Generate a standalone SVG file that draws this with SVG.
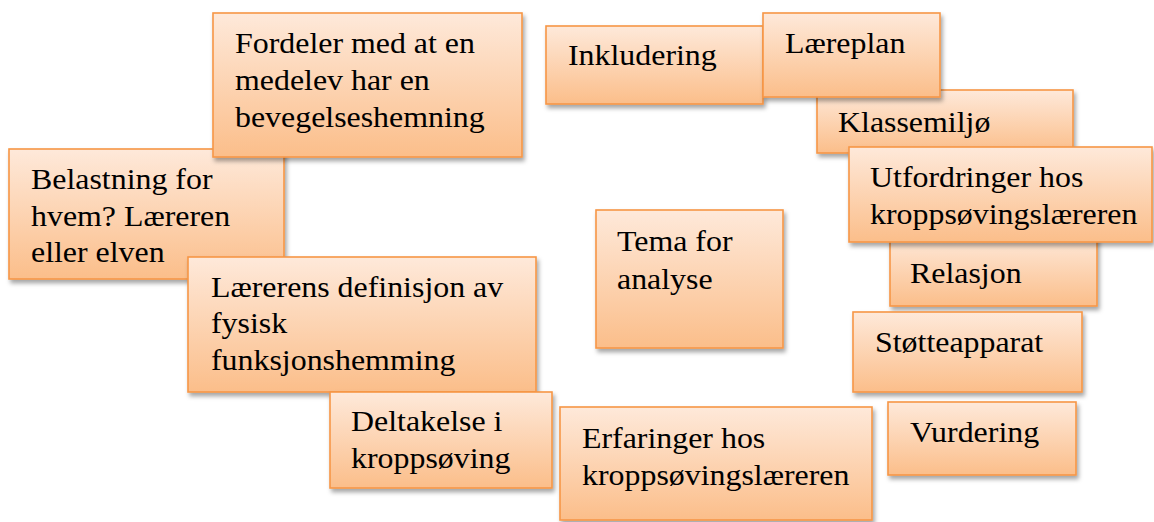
<svg xmlns="http://www.w3.org/2000/svg" width="1154" height="522" viewBox="0 0 1154 522">
<style>
.box{fill:url(#grad);stroke:#F79646;stroke-width:1.6;filter:url(#shadow)}
.t{font-family:'Liberation Serif','Times New Roman',serif;font-size:29px;fill:#000}
</style>
<defs>
<linearGradient id="grad" x1="0" y1="0" x2="0" y2="1">
<stop offset="0" stop-color="#FEE9DA"/>
<stop offset="1" stop-color="#FBBE8A"/>
</linearGradient>
<filter id="shadow" x="-10%" y="-10%" width="125%" height="130%">
<feDropShadow dx="2" dy="3.5" stdDeviation="2.2" flood-color="#000" flood-opacity="0.35"/>
</filter>
</defs>
<rect width="1154" height="522" fill="#fff"/>
<g id="connectors"/>
<g id="belastning">
<rect class="box" x="9" y="149" width="275" height="130"/>
<text class="t" transform="translate(31 189) scale(1.1 1)"><tspan x="0" y="0">Belastning for</tspan><tspan x="0" y="37">hvem? Læreren</tspan><tspan x="0" y="73">eller elven</tspan></text>
</g>
<g id="fordeler">
<rect class="box" x="213" y="13" width="309" height="144"/>
<text class="t" transform="translate(235 53) scale(1.1 1)"><tspan x="0" y="0">Fordeler med at en</tspan><tspan x="0" y="37">medelev har en</tspan><tspan x="0" y="74">bevegelseshemning</tspan></text>
</g>
<g id="inkludering">
<rect class="box" x="546" y="26" width="217" height="78"/>
<text class="t" transform="translate(568 65) scale(1.1 1)">Inkludering</text>
</g>
<g id="klassemiljo">
<rect class="box" x="817" y="90" width="256" height="63"/>
<text class="t" transform="translate(838 132) scale(1.1 1)">Klassemiljø</text>
</g>
<g id="laereplan">
<rect class="box" x="763" y="13" width="177" height="84"/>
<text class="t" transform="translate(785 53) scale(1.1 1)">Læreplan</text>
</g>
<g id="relasjon">
<rect class="box" x="890" y="236" width="207" height="70"/>
<text class="t" transform="translate(910 283) scale(1.1 1)">Relasjon</text>
</g>
<g id="utfordringer">
<rect class="box" x="849" y="147" width="303" height="95"/>
<text class="t" transform="translate(870 187) scale(1.1 1)"><tspan x="0" y="0">Utfordringer hos</tspan><tspan x="0" y="37">kroppsøvingslæreren</tspan></text>
</g>
<g id="laererens">
<rect class="box" x="188" y="257" width="348" height="135"/>
<text class="t" transform="translate(211 297) scale(1.1 1)"><tspan x="0" y="0">Lærerens definisjon av</tspan><tspan x="0" y="36">fysisk</tspan><tspan x="0" y="73">funksjonshemming</tspan></text>
</g>
<g id="deltakelse">
<rect class="box" x="330" y="392" width="222" height="96"/>
<text class="t" transform="translate(351 431) scale(1.1 1)"><tspan x="0" y="0">Deltakelse i</tspan><tspan x="0" y="37">kroppsøving</tspan></text>
</g>
<g id="erfaringer">
<rect class="box" x="560" y="407" width="312" height="113"/>
<text class="t" transform="translate(582 448) scale(1.1 1)"><tspan x="0" y="0">Erfaringer hos</tspan><tspan x="0" y="37">kroppsøvingslæreren</tspan></text>
</g>
<g id="tema">
<rect class="box" x="596" y="210" width="187" height="138"/>
<text class="t" transform="translate(617 251) scale(1.1 1)"><tspan x="0" y="0">Tema for</tspan><tspan x="0" y="38">analyse</tspan></text>
</g>
<g id="stotteapparat">
<rect class="box" x="853" y="312" width="229" height="80"/>
<text class="t" transform="translate(875 352) scale(1.1 1)">Støtteapparat</text>
</g>
<g id="vurdering">
<rect class="box" x="888" y="402" width="188" height="73"/>
<text class="t" transform="translate(910 442) scale(1.1 1)">Vurdering</text>
</g>
</svg>
